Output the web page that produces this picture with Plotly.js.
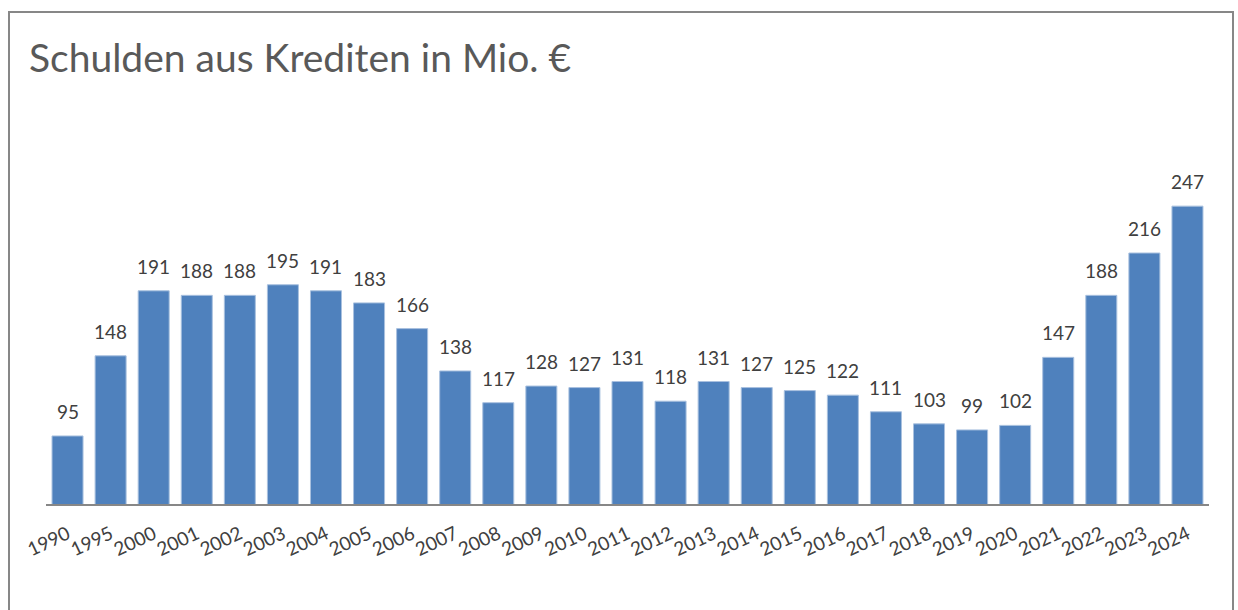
<!DOCTYPE html>
<html>
<head>
<meta charset="utf-8">
<script src="https://cdn.plot.ly/plotly-3.0.1.min.js"></script>
<style>
  html, body { margin: 0; padding: 0; background: #ffffff; }
  #chart { width: 1238px; height: 610px; }
</style>
</head>
<body>
<div id="chart"></div>
<script>
const years = ["1990","1995","2000","2001","2002","2003","2004","2005","2006","2007","2008","2009","2010","2011","2012","2013","2014","2015","2016","2017","2018","2019","2020","2021","2022","2023","2024"];
const debts = [95,148,191,188,188,195,191,183,166,138,117,128,127,131,118,131,127,125,122,111,103,99,102,147,188,216,247];
const chartTitle = "Schulden aus Krediten in Mio. €";

const FONT = "Lato, 'Open Sans', sans-serif";

const trace = {
  type: "bar",
  x: years,
  y: debts,
  marker: { color: "#4f81bd", line: { color: "#a9c1df", width: 1 } },
  hoverinfo: "x+y"
};

// category positions (index into the category axis)
const labels = debts.map((v, i) => ({
  x: i, y: v, xref: "x", yref: "y",
  text: String(v),
  showarrow: false,
  yanchor: "bottom", xanchor: "center",
  yshift: 11,
  font: { family: FONT, size: 19, color: "#404040" }
}));

const W = 1238, H = 610;
const ml = 46, mr = 29, mt = 126, mb = 106;
const pw = W - ml - mr, ph = H - mt - mb;
function px(x) { return (x - ml) / pw; }
function py(y) { return (H - mb - y) / ph; }

const layout = {
  width: W, height: H,
  margin: { l: ml, r: mr, t: mt, b: mb, pad: 0 },
  paper_bgcolor: "#ffffff",
  plot_bgcolor: "#ffffff",
  bargap: 0.28,
  showlegend: false,
  title: {
    text: chartTitle,
    font: { family: FONT, size: 39, color: "#595959" },
    x: 29 / W, xref: "container", xanchor: "left",
    y: 1 - 72 / H, yref: "container", yanchor: "bottom"
  },
  xaxis: {
    type: "category",
    categoryorder: "array",
    categoryarray: years,
    range: [-0.5, years.length - 0.5],
    showgrid: false,
    showline: true, linecolor: "#878787", linewidth: 2,
    ticks: "",
    tickangle: -25,
    ticklabelstandoff: 10,
    tickfont: { family: FONT, size: 19, color: "#404040" },
    automargin: false
  },
  yaxis: {
    range: [50, 300],
    visible: false,
    showgrid: false,
    zeroline: false,
    fixedrange: true
  },
  annotations: labels,
  shapes: [{
    type: "rect", xref: "paper", yref: "paper",
    x0: px(9), x1: px(1233), y0: py(620), y1: py(12),
    line: { color: "#878787", width: 2 },
    fillcolor: "rgba(0,0,0,0)", layer: "above"
  }]
};

Plotly.newPlot("chart", [trace], layout, { displayModeBar: false, staticPlot: true });
</script>
</body>
</html>
